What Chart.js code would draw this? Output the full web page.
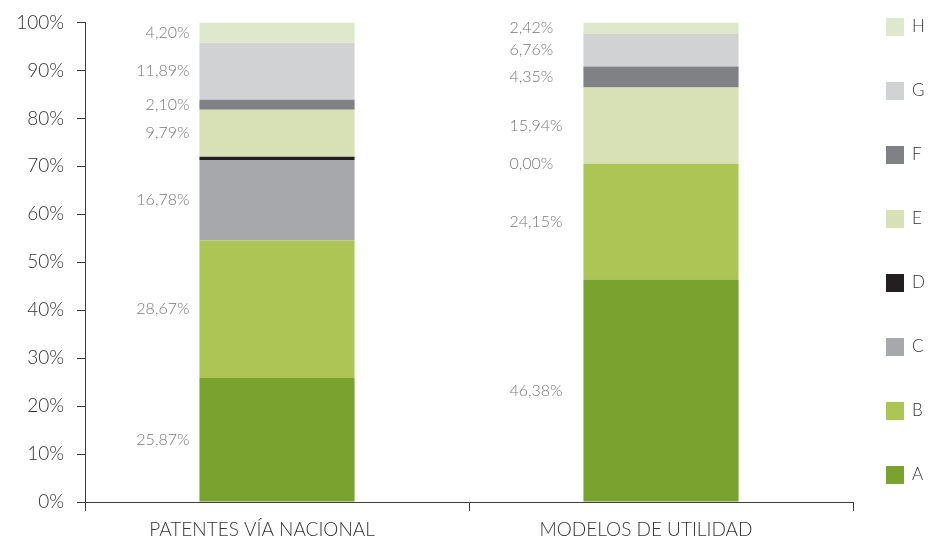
<!DOCTYPE html>
<html>
<head>
<meta charset="utf-8">
<script src="https://cdn.jsdelivr.net/npm/chart.js@4"></script>
<style>
  html, body { margin: 0; background: #fff; }
</style>
</head>
<body>
<canvas id="chart" width="928" height="540"></canvas>
<script>
// Chart data
const categories = ['PATENTES VÍA NACIONAL', 'MODELOS DE UTILIDAD'];
const seriesNames = ['A', 'B', 'C', 'D', 'E', 'F', 'G', 'H'];
const seriesColors = ['#79a22e', '#adc554', '#a7a8ab', '#231f20', '#d8e0b6', '#808184', '#d1d2d4', '#dfe8cc'];
const valuesA = [25.87, 46.38];
const valuesB = [28.67, 24.15];
const valuesC = [16.78, 0.00];
const valuesD = [0.70, 0.00];
const valuesE = [9.79, 15.94];
const valuesF = [2.10, 4.35];
const valuesG = [11.89, 6.76];
const valuesH = [4.20, 2.42];
const yTicks = [0, 10, 20, 30, 40, 50, 60, 70, 80, 90, 100];

const allValues = [valuesA, valuesB, valuesC, valuesD, valuesE, valuesF, valuesG, valuesH];
const hiddenLabels = ['D'];

const fontFamily = 'Lato, "Open Sans", sans-serif';
const axisColor = '#3c3c3c';

// value labels to the left of each bar segment
const segLabels = {
    id: 'segLabels',
    afterDatasetsDraw(chart) {
        const ctx = chart.ctx;
        ctx.save();
        ctx.font = '300 16px ' + fontFamily;
        ctx.fillStyle = '#77787b';
        ctx.textBaseline = 'middle';
        chart.data.datasets.forEach((ds, i) => {
            if (hiddenLabels.includes(ds.label)) return;
            chart.getDatasetMeta(i).data.forEach((bar, j) => {
                const left = bar.x - bar.width / 2;
                const y = (bar.y + bar.base) / 2;
                const txt = ds.data[j].toFixed(2).replace('.', ',') + '%';
                if (j === 0) {
                    ctx.textAlign = 'right';
                    ctx.fillText(txt, left - 10, y);
                } else {
                    ctx.textAlign = 'left';
                    ctx.fillText(txt, left - 74, y);
                }
            });
        });
        ctx.restore();
    }
};

// legend on the right, top item is the last series
const sideLegend = {
    id: 'sideLegend',
    afterDraw(chart) {
        const ctx = chart.ctx;
        const items = chart.data.datasets.slice().reverse();
        ctx.save();
        ctx.font = '300 17px ' + fontFamily;
        ctx.textBaseline = 'middle';
        ctx.textAlign = 'left';
        items.forEach((ds, k) => {
            const cy = 27 + k * 64;
            ctx.fillStyle = ds.backgroundColor;
            ctx.fillRect(886, cy - 9, 18, 18);
            ctx.fillStyle = '#333';
            ctx.fillText(ds.label, 912, cy);
        });
        ctx.restore();
    }
};

new Chart(document.getElementById('chart'), {
    type: 'bar',
    data: {
        labels: categories,
        datasets: seriesNames.map((name, i) => ({
            label: name,
            data: allValues[i],
            backgroundColor: seriesColors[i],
            borderWidth: 0,
            barPercentage: 0.404,
            categoryPercentage: 1
        }))
    },
    options: {
        responsive: false,
        animation: false,
        layout: { padding: { left: 0, right: 75, top: 22, bottom: 0 } },
        plugins: {
            legend: { display: false },
            tooltip: { enabled: false }
        },
        scales: {
            x: {
                stacked: true,
                afterFit: scale => { scale.height = 38; },
                grid: { offset: true, drawOnChartArea: false, tickLength: 9, color: axisColor },
                border: { color: axisColor },
                ticks: {
                    font: { family: fontFamily, size: 19, weight: '300' },
                    color: '#333',
                    padding: 7,
                    labelOffset: -15
                }
            },
            y: {
                stacked: true,
                min: 0,
                max: 100,
                afterBuildTicks: scale => { scale.ticks = yTicks.map(v => ({ value: v })); },
                afterFit: scale => { scale.width = 85; },
                grid: { drawOnChartArea: false, tickLength: 8, color: axisColor },
                border: { color: axisColor },
                ticks: {
                    font: { family: fontFamily, size: 19, weight: '300', lineHeight: 1 },
                    color: '#333',
                    padding: 13,
                    callback: v => v + '%'
                }
            }
        }
    },
    plugins: [segLabels, sideLegend]
});
</script>
</body>
</html>
